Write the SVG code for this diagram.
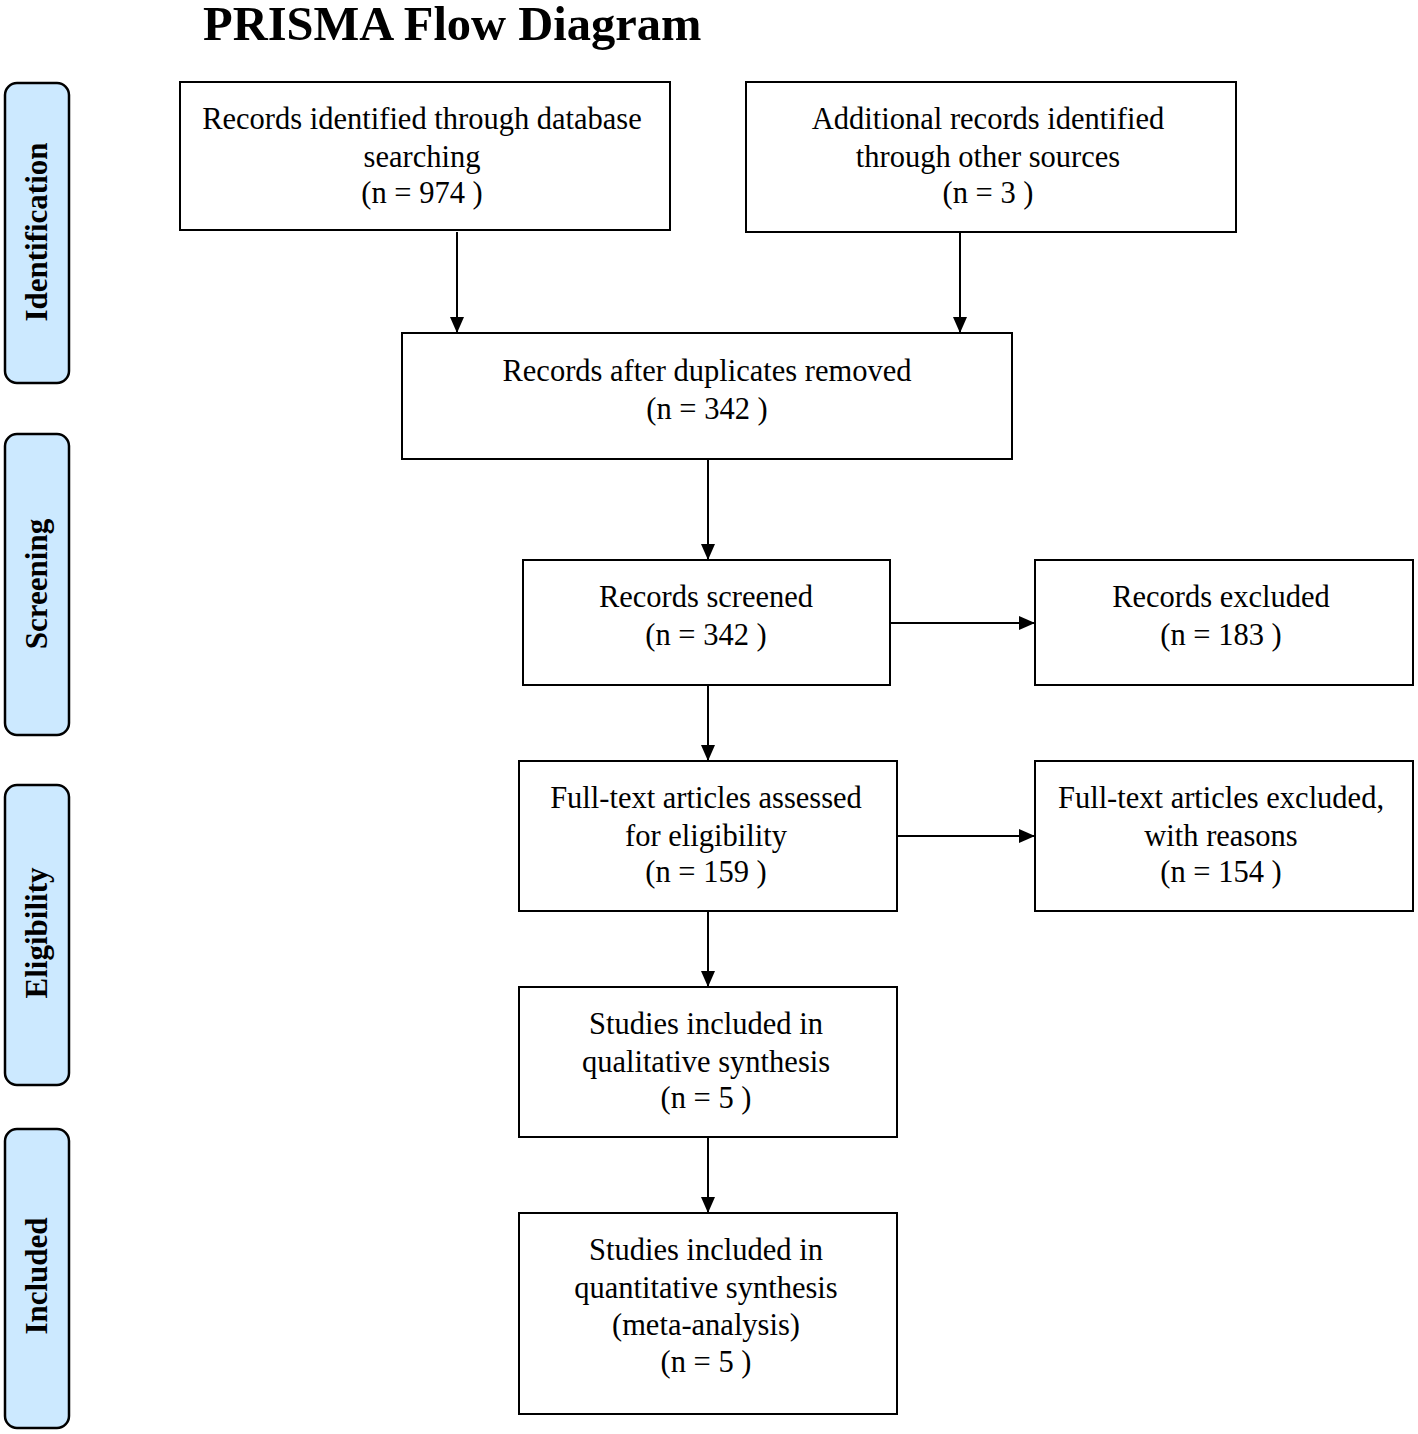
<svg xmlns="http://www.w3.org/2000/svg" width="1418" height="1434" viewBox="0 0 1418 1434">
<style>
.box{fill:#fff;stroke:#000;stroke-width:2}
.side{fill:#cce9ff;stroke:#000;stroke-width:2.5}
.t{font-family:"Liberation Serif","Times New Roman",serif;font-size:30.5px;fill:#000;text-anchor:middle}
.s{font-family:"Liberation Serif","Times New Roman",serif;font-size:31px;font-weight:bold;fill:#000;text-anchor:middle}
.c{stroke:#000;stroke-width:2;fill:none;marker-end:url(#ah)}
</style>
<defs>
<marker id="ah" markerWidth="16" markerHeight="16" refX="15" refY="7" orient="auto" markerUnits="userSpaceOnUse" viewBox="0 0 16 14">
<path d="M0,0 L16,7 L0,14 z" fill="#000"/>
</marker>
</defs>
<rect width="1418" height="1434" fill="#fff"/>
<text x="203" y="40" font-family="Liberation Serif,Times New Roman,serif" font-size="48.5" font-weight="bold">PRISMA Flow Diagram</text>

<g id="side-identification"><rect class="side" x="5" y="83" width="64" height="300" rx="12"/><text class="s" transform="translate(47,232) rotate(-90)">Identification</text></g>
<g id="side-screening"><rect class="side" x="5" y="434" width="64" height="301" rx="12"/><text class="s" transform="translate(47,584) rotate(-90)">Screening</text></g>
<g id="side-eligibility"><rect class="side" x="5" y="785" width="64" height="300" rx="12"/><text class="s" transform="translate(47,933) rotate(-90)">Eligibility</text></g>
<g id="side-included"><rect class="side" x="5" y="1129" width="64" height="299" rx="12"/><text class="s" transform="translate(47,1276) rotate(-90)">Included</text></g>

<g id="connectors">
<path class="c" d="M457,232 V332"/>
<path class="c" d="M960,233 V332"/>
<path class="c" d="M708,459 V559"/>
<path class="c" d="M708,685 V760"/>
<path class="c" d="M708,911 V986"/>
<path class="c" d="M708,1137 V1212"/>
<path class="c" d="M890,623 H1034"/>
<path class="c" d="M897,836 H1034"/>
</g>

<g id="n1"><rect class="box" x="180" y="82" width="490" height="148"/>
<text class="t" x="422" y="129">Records identified through database</text>
<text class="t" x="422" y="167">searching</text>
<text class="t" x="422" y="203">(n = 974 )</text></g>
<g id="n2"><rect class="box" x="746" y="82" width="490" height="150"/>
<text class="t" x="988" y="129">Additional records identified</text>
<text class="t" x="988" y="167">through other sources</text>
<text class="t" x="988" y="203">(n = 3 )</text></g>
<g id="n3"><rect class="box" x="402" y="333" width="610" height="126"/>
<text class="t" x="707" y="381">Records after duplicates removed</text>
<text class="t" x="707" y="419">(n = 342 )</text></g>
<g id="n4"><rect class="box" x="523" y="560" width="367" height="125"/>
<text class="t" x="706" y="607">Records screened</text>
<text class="t" x="706" y="645">(n = 342 )</text></g>
<g id="n5"><rect class="box" x="1035" y="560" width="378" height="125"/>
<text class="t" x="1221" y="607">Records excluded</text>
<text class="t" x="1221" y="645">(n = 183 )</text></g>
<g id="n6"><rect class="box" x="519" y="761" width="378" height="150"/>
<text class="t" x="706" y="808">Full-text articles assessed</text>
<text class="t" x="706" y="846">for eligibility</text>
<text class="t" x="706" y="882">(n = 159 )</text></g>
<g id="n7"><rect class="box" x="1035" y="761" width="378" height="150"/>
<text class="t" x="1221" y="808">Full-text articles excluded,</text>
<text class="t" x="1221" y="846">with reasons</text>
<text class="t" x="1221" y="882">(n = 154 )</text></g>
<g id="n8"><rect class="box" x="519" y="987" width="378" height="150"/>
<text class="t" x="706" y="1034">Studies included in</text>
<text class="t" x="706" y="1072">qualitative synthesis</text>
<text class="t" x="706" y="1108">(n = 5 )</text></g>
<g id="n9"><rect class="box" x="519" y="1213" width="378" height="201"/>
<text class="t" x="706" y="1260">Studies included in</text>
<text class="t" x="706" y="1298">quantitative synthesis</text>
<text class="t" x="706" y="1335">(meta-analysis)</text>
<text class="t" x="706" y="1372">(n = 5 )</text></g>
</svg>
